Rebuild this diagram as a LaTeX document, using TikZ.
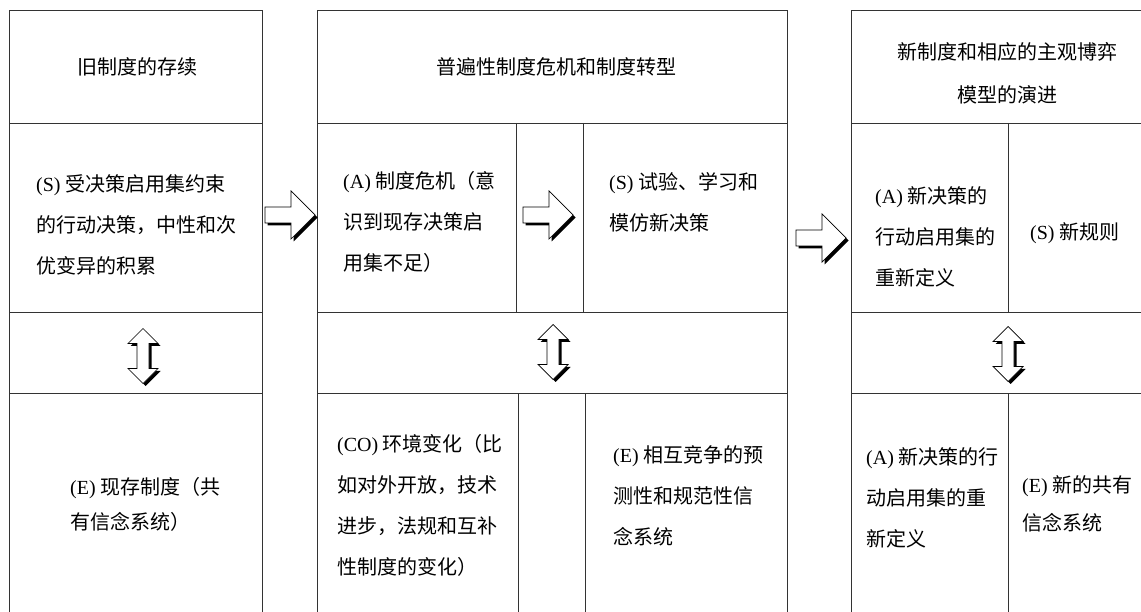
\documentclass[tikz,border=0pt]{standalone}
\usepackage{fontspec}
\setmainfont{Liberation Serif}
\newfontfamily\cjkfont{Noto Sans CJK SC}
\newcommand\tagtxt[1]{{\rmfamily #1}}
\tikzset{
  boxline/.style={draw=black!80, line width=0.8pt},
  cell/.style={font={\cjkfont\fontsize{20}{41}\selectfont}, align=left, inner sep=0pt, anchor=west},
  header/.style={cell, align=center, anchor=center},
  rarrow/.pic={
    \fill[black, shift={(2.5,2.5)}] (0,-8) -- (26,-8) -- (26,-24) -- (50,0) -- (26,24) -- (26,8) -- (0,8) -- cycle;
    \filldraw[fill=white, draw=black, line width=0.7pt] (0,-8) -- (26,-8) -- (26,-24) -- (50,0) -- (26,24) -- (26,8) -- (0,8) -- cycle;
  },
  updown/.pic={
    \fill[black, shift={(2.5,2.5)}] (0,-27.5) -- (15,-12.5) -- (6,-12.5) -- (6,12.5) -- (15,12.5) -- (0,27.5) -- (-15,12.5) -- (-6,12.5) -- (-6,-12.5) -- (-15,-12.5) -- cycle;
    \filldraw[fill=white, draw=black, line width=0.7pt] (0,-27.5) -- (15,-12.5) -- (6,-12.5) -- (6,12.5) -- (15,12.5) -- (0,27.5) -- (-15,12.5) -- (-6,12.5) -- (-6,-12.5) -- (-15,-12.5) -- cycle;
  }
}
\begin{document}
\begin{tikzpicture}[x=1pt, y=-1pt]
    \useasboundingbox (0,0) rectangle (1141,612);
    % old institution
    \draw[boxline] (9,612) -- (9,10) -- (262,10) -- (262,612);
    \draw[boxline] (9,123) -- (262,123) (9,312) -- (262,312) (9,393) -- (262,393);
    % crisis and transition
    \draw[boxline] (317,612) -- (317,10) -- (787,10) -- (787,612);
    \draw[boxline] (317,123) -- (787,123) (317,312) -- (787,312) (317,393) -- (787,393);
    \draw[boxline] (516,123) -- (516,312) (583,123) -- (583,312); % strip between A and S
    \draw[boxline] (518,393) -- (518,612) (585,393) -- (585,612); % strip between CO and E
    % new institution
    \draw[boxline] (851,612) -- (851,10) -- (1141,10);
    \draw[boxline] (851,123) -- (1141,123) (851,312) -- (1141,312) (851,393) -- (1141,393);
    \draw[boxline] (1008,123) -- (1008,312) (1008,393) -- (1008,612);
    \node[header] (hOld) at (137,67) {旧制度的存续};
    \node[header] (hCrisis) at (556,67) {普遍性制度危机和制度转型};
    \node[header] (hNew) at (1007,73) {新制度和相应的主观博弈\\[2pt]模型的演进};
    \node[cell] (sOld) at (36,225) {\tagtxt{(S)} 受决策启用集约束\\的行动决策，中性和次\\优变异的积累};
    \node[cell] (eOld) at (70,504) {\tagtxt{(E)} 现存制度（共\\[-6pt]有信念系统）};
    \node[cell] (aCrisis) at (343,222) {\tagtxt{(A)} 制度危机（意\\识到现存决策启\\用集不足）};
    \node[cell] (sCrisis) at (609,202) {\tagtxt{(S)} 试验、学习和\\模仿新决策};
    \node[cell] (coCrisis) at (337,505) {\tagtxt{(CO)} 环境变化（比\\如对外开放，技术\\进步，法规和互补\\性制度的变化）};
    \node[cell] (eCrisis) at (613,496) {\tagtxt{(E)} 相互竞争的预\\测性和规范性信\\念系统};
    \node[cell] (aNew) at (875,237) {\tagtxt{(A)} 新决策的\\行动启用集的\\重新定义};
    \node[cell] (sNew) at (1030,233) {\tagtxt{(S)} 新规则};
    \node[cell] (aDef) at (866,498) {\tagtxt{(A)} 新决策的行\\动启用集的重\\新定义};
    \node[cell] (eNew) at (1022,504) {\tagtxt{(E)} 新的共有\\[-3pt]信念系统};
    \pic at (265,215) {rarrow};
    \pic at (523,215) {rarrow};
    \pic at (796,238) {rarrow};
    \pic at (143,356) {updown};
    \pic at (553,352) {updown};
    \pic at (1008,354) {updown};
\end{tikzpicture}
\end{document}
